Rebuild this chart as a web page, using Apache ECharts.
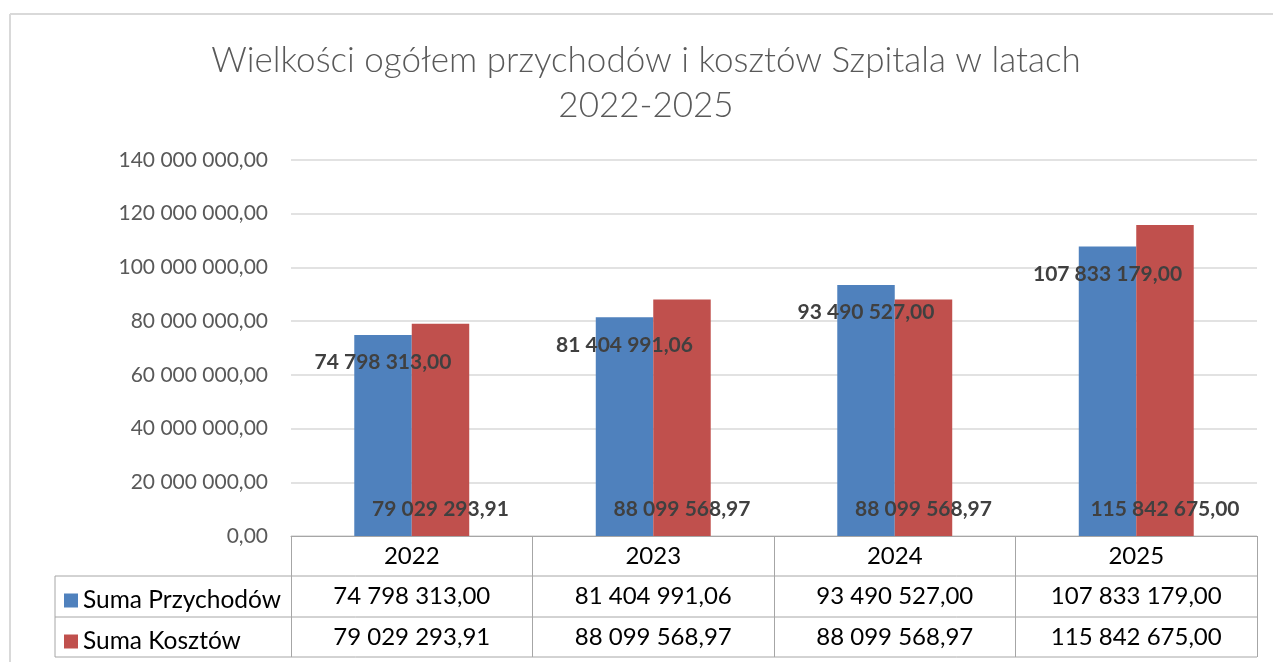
<!DOCTYPE html>
<html><head><meta charset="utf-8">
<script src="https://cdn.jsdelivr.net/npm/echarts@6/dist/echarts.min.js"></script>
<style>html,body{margin:0;padding:0;background:#fff}#c{width:1273px;height:662px}</style>
</head><body><div id="c"></div>
<script>
const titleText = 'Wielkości ogółem przychodów i kosztów Szpitala w latach\n2022-2025';
const categories = ['2022', '2023', '2024', '2025'];
const seriesNames = ['Suma Przychodów', 'Suma Kosztów'];
const przychody = [74798313.00, 81404991.06, 93490527.00, 107833179.00];
const koszty = [79029293.91, 88099568.97, 88099568.97, 115842675.00];
const yMin = 0, yMax = 140000000, yStep = 20000000;

function fmt(v) {
  const parts = v.toFixed(2).split('.');
  return parts[0].replace(/\B(?=(\d{3})+(?!\d))/g, ' ') + ',' + parts[1];
}

const FONT = 'Lato, "Open Sans", sans-serif';
const chart = echarts.init(document.getElementById('c'), null, {renderer: 'canvas'});
const tableLine = '#a6a6a6';

const option = {
  animation: false,
  title: {
    text: titleText, left: 646, top: 38, padding: 0, textAlign: 'center',
    textStyle: {fontFamily: FONT, fontWeight: 300, fontSize: 35, lineHeight: 45, color: '#595959'}
  },
  legend: [
    {data: [seriesNames[0]], left: 64, top: 588, padding: 0, icon: 'rect', itemWidth: 14, itemHeight: 14, itemGap: 8,
     textStyle: {fontFamily: FONT, fontSize: 24.5, color: '#000', lineHeight: 14}},
    {data: [seriesNames[1]], left: 64, top: 629, padding: 0, icon: 'rect', itemWidth: 14, itemHeight: 14, itemGap: 8,
     textStyle: {fontFamily: FONT, fontSize: 24.5, color: '#000', lineHeight: 14}}
  ],
  grid: {left: 291, right: 16, top: 160, bottom: 126, containLabel: false},
  xAxis: [
    {type: 'category', data: categories, position: 'bottom',
     axisLine: {show: true, lineStyle: {color: tableLine, width: 1}},
     axisTick: {show: true, length: 121, interval: 0, lineStyle: {color: tableLine, width: 1}},
     axisLabel: {margin: 8, fontFamily: FONT, fontSize: 24, color: '#000', lineHeight: 24}},
    {type: 'category', data: przychody.map(fmt), position: 'bottom', offset: 40,
     axisLine: {show: false}, axisTick: {show: false},
     axisLabel: {margin: 8, fontFamily: FONT, fontSize: 24, color: '#000', lineHeight: 24}},
    {type: 'category', data: koszty.map(fmt), position: 'bottom', offset: 81,
     axisLine: {show: false}, axisTick: {show: false},
     axisLabel: {margin: 8, fontFamily: FONT, fontSize: 24, color: '#000', lineHeight: 24}}
  ],
  yAxis: {
    type: 'value', min: yMin, max: yMax, interval: yStep,
    axisLine: {show: false}, axisTick: {show: false},
    splitLine: {show: true, lineStyle: {color: '#d9d9d9', width: 1.5}},
    axisLabel: {margin: 23, fontFamily: FONT, fontSize: 21, color: '#595959', formatter: v => fmt(v)}
  },
  series: [
    {name: seriesNames[0], type: 'bar', data: przychody, barWidth: '23.8%', barGap: '0%',
     itemStyle: {color: '#4f81bd'},
     label: {show: true, position: 'insideTop', distance: 17, formatter: p => fmt(p.value),
             fontFamily: FONT, fontWeight: 'bold', fontSize: 21, color: '#404040'}},
    {name: seriesNames[1], type: 'bar', data: koszty, barWidth: '23.8%', barGap: '0%',
     itemStyle: {color: '#c0504d'},
     label: {show: true, position: 'insideBottom', distance: 16, formatter: p => fmt(p.value),
             fontFamily: FONT, fontWeight: 'bold', fontSize: 21, color: '#404040'}}
  ]
};
chart.setOption(option);

// table lines and chart frame derived from the axes
const y0 = chart.convertToPixel({yAxisIndex: 0}, yMin);
const xFirst = chart.convertToPixel({xAxisIndex: 0}, categories[0]);
const xSecond = chart.convertToPixel({xAxisIndex: 0}, categories[1]);
const band = xSecond - xFirst;
const xRight = chart.convertToPixel({xAxisIndex: 0}, categories[categories.length - 1]) + band / 2;
const rowH = [40, 81, 121];
const legendLeft = 55;
const g = [];
rowH.forEach(h => {
  g.push({type: 'line', shape: {x1: legendLeft, y1: y0 + h, x2: xRight, y2: y0 + h}, style: {stroke: tableLine, lineWidth: 1}});
});
g.push({type: 'line', shape: {x1: legendLeft, y1: y0 + rowH[0], x2: legendLeft, y2: y0 + rowH[2]}, style: {stroke: tableLine, lineWidth: 1}});
g.push({type: 'line', shape: {x1: 10, y1: 14, x2: 1273, y2: 14}, style: {stroke: '#d9d9d9', lineWidth: 2}});
g.push({type: 'line', shape: {x1: 10, y1: 14, x2: 10, y2: 662}, style: {stroke: '#d9d9d9', lineWidth: 2}});
chart.setOption({graphic: g});
</script>
</body></html>
